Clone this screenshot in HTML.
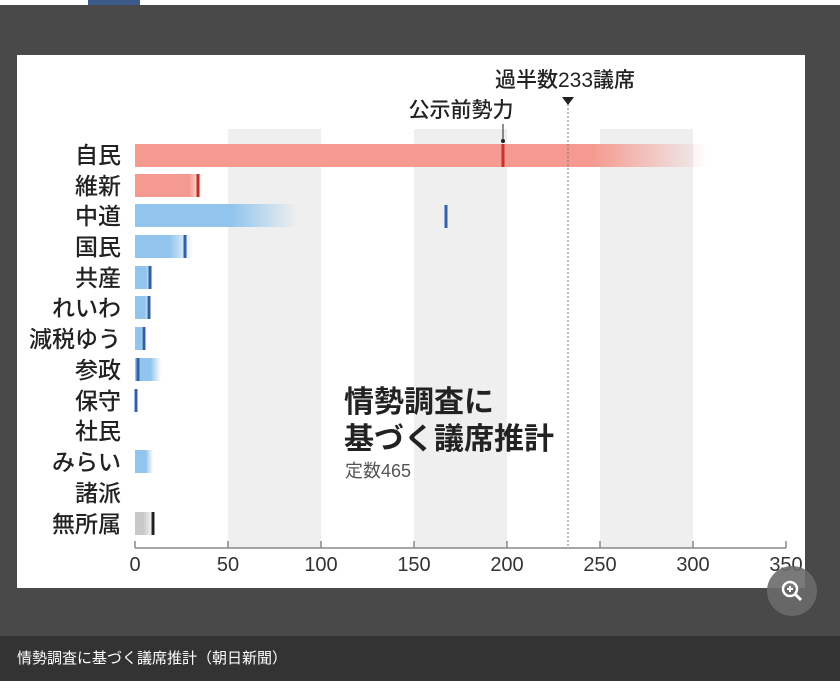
<!DOCTYPE html>
<html><head><meta charset="utf-8"><style>
body{margin:0;width:840px;height:689px;background:#fff;overflow:hidden;font-family:"Liberation Sans","Noto Sans CJK JP",sans-serif;position:relative}
.bg{position:absolute;left:0;top:5px;width:840px;height:631px;background:#494949}
.tab{position:absolute;left:88px;top:0;width:52px;height:5px;background:#3b5b8a}
.cap{position:absolute;left:0;top:636px;width:840px;height:45px;background:#333;color:#fff;font-size:15px;line-height:45px;padding-left:17px;box-sizing:border-box}
svg{position:absolute;left:0;top:0}
</style></head><body>
<div class="bg"></div><div class="tab"></div>
<svg width="840" height="636" xmlns="http://www.w3.org/2000/svg">
<defs>
<linearGradient id="r" x1="0" x2="1"><stop offset="0.8" stop-color="#f59a90"/><stop offset="1" stop-color="#f59a90" stop-opacity="0"/></linearGradient>
<linearGradient id="b" x1="0" x2="1"><stop offset="0.6" stop-color="#92c5ee"/><stop offset="1" stop-color="#92c5ee" stop-opacity="0"/></linearGradient>
<linearGradient id="g" x1="0" x2="1"><stop offset="0.5" stop-color="#c8c8c8"/><stop offset="1" stop-color="#c8c8c8" stop-opacity="0.3"/></linearGradient>
</defs>
<rect x="17" y="55" width="788" height="533" fill="#fff"/>
<rect x="228" y="129" width="93" height="419" fill="#efefef"/>
<rect x="414" y="129" width="93" height="419" fill="#efefef"/>
<rect x="600" y="129" width="93" height="419" fill="#efefef"/>
<g font-size="23" fill="#222" text-anchor="end" font-weight="500">
<text x="121" y="163">自民</text><text x="121" y="194">維新</text><text x="121" y="224">中道</text><text x="121" y="255">国民</text><text x="121" y="286">共産</text><text x="121" y="316">れいわ</text><text x="121" y="347">減税ゆう</text><text x="121" y="378">参政</text><text x="121" y="409">保守</text><text x="121" y="439">社民</text><text x="121" y="470">みらい</text><text x="121" y="501">諸派</text><text x="121" y="532">無所属</text>
</g>
<rect x="135" y="144" width="572" height="23" fill="url(#r)"/>
<rect x="135" y="174" width="68" height="23" fill="url(#r)"/>
<rect x="135" y="204" width="162" height="23" fill="url(#b)"/>
<rect x="135" y="235" width="58" height="23" fill="url(#b)"/>
<rect x="135" y="266" width="18" height="23" fill="url(#b)"/>
<rect x="135" y="296" width="16" height="23" fill="url(#b)"/>
<rect x="135" y="327" width="10" height="23" fill="url(#b)"/>
<rect x="135" y="358" width="26" height="23" fill="url(#b)"/>
<rect x="135" y="450" width="18" height="23" fill="url(#b)"/>
<rect x="135" y="512" width="16" height="23" fill="url(#g)"/>
<g stroke-width="3">
<line x1="503" y1="144" x2="503" y2="167" stroke="#c8322a"/>
<line x1="198" y1="174" x2="198" y2="197" stroke="#b8322a"/>
<line x1="446" y1="205" x2="446" y2="228" stroke="#3560a8"/>
<line x1="185" y1="235" x2="185" y2="258" stroke="#3560a8"/>
<line x1="150" y1="266" x2="150" y2="289" stroke="#3560a8"/>
<line x1="149" y1="296" x2="149" y2="319" stroke="#3560a8"/>
<line x1="144" y1="327" x2="144" y2="350" stroke="#3560a8"/>
<line x1="138" y1="358" x2="138" y2="381" stroke="#3560a8"/>
<line x1="136" y1="389" x2="136" y2="412" stroke="#3560a8"/>
<line x1="153" y1="512" x2="153" y2="535" stroke="#222"/>
</g>
<line x1="568" y1="104" x2="568" y2="548" stroke="#777" stroke-dasharray="2,2"/>
<polygon points="562,97 574,97 568,105" fill="#222"/>
<line x1="503" y1="124" x2="503" y2="141" stroke="#222"/>
<circle cx="503" cy="141" r="2" fill="#222"/>
<text x="565" y="87" font-size="21" fill="#222" text-anchor="middle" font-weight="500">過半数233議席</text>
<text x="461" y="117" font-size="21" fill="#222" text-anchor="middle" font-weight="500">公示前勢力</text>
<line x1="135" y1="548" x2="786" y2="548" stroke="#888" stroke-width="1.5"/>
<g stroke="#888" stroke-width="1.5"><line x1="135" y1="541" x2="135" y2="548"/><line x1="228" y1="541" x2="228" y2="548"/><line x1="321" y1="541" x2="321" y2="548"/><line x1="414" y1="541" x2="414" y2="548"/><line x1="507" y1="541" x2="507" y2="548"/><line x1="600" y1="541" x2="600" y2="548"/><line x1="693" y1="541" x2="693" y2="548"/><line x1="786" y1="541" x2="786" y2="548"/></g>
<g font-size="20" fill="#333" text-anchor="middle"><text x="135" y="571">0</text><text x="228" y="571">50</text><text x="321" y="571">100</text><text x="414" y="571">150</text><text x="507" y="571">200</text><text x="600" y="571">250</text><text x="693" y="571">300</text><text x="786" y="571">350</text></g>
<text x="344" y="412" font-size="30" font-weight="bold" fill="#222">情勢調査に</text>
<text x="344" y="449" font-size="30" font-weight="bold" fill="#222">基づく議席推計</text>
<text x="345" y="477" font-size="18" fill="#555">定数465</text>
<circle cx="792" cy="591" r="25" fill="#6a6a6a" opacity="0.9"/>
<circle cx="790" cy="589" r="7" fill="none" stroke="#fff" stroke-width="2.5"/>
<line x1="795" y1="594" x2="801" y2="600" stroke="#fff" stroke-width="3"/>
<line x1="787" y1="589" x2="793" y2="589" stroke="#fff" stroke-width="2"/><line x1="790" y1="586" x2="790" y2="592" stroke="#fff" stroke-width="2"/>
</svg>
<div class="cap">情勢調査に基づく議席推計（朝日新聞）</div>
</body></html>
